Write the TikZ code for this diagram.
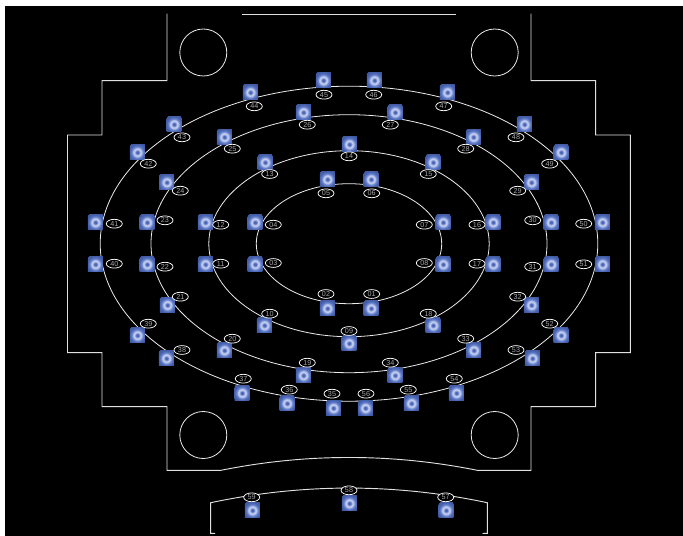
\documentclass[tikz,border=0pt]{standalone}
\usepackage{fontspec}
\setmainfont{Liberation Sans}
\usetikzlibrary{shapes.geometric}
\definecolor{tilecore}{HTML}{4A66B8}
\definecolor{tilemid}{HTML}{6E88D0}
\definecolor{tilering}{HTML}{C4CEF0}
\definecolor{tileedge}{HTML}{4A66B4}
\definecolor{tilecorner}{HTML}{3D5296}
\pgfdeclareradialshading{tileglow}{\pgfpoint{0bp}{0bp}}{%
  color(0bp)=(tilecore);
  color(4bp)=(tilecore);
  color(10bp)=(tilering);
  color(13bp)=(tilering);
  color(18bp)=(tilemid);
  color(24bp)=(tileedge);
  color(36bp)=(tilecorner)}
\tikzset{
  tile/.style={rectangle, minimum size=11.2pt, inner sep=0pt, shading=tileglow},
  tag/.style={ellipse, draw=white, fill=black, line width=.55pt, text=white!65!black,
    minimum width=12pt, minimum height=6.6pt, inner sep=0pt, font=\fontsize{5.4}{5.4}\selectfont},
  wall/.style={draw=white!88!black, line width=.7pt},
  ring/.style={draw=white!92!black, line width=.6pt}
}
\begin{document}
\begin{tikzpicture}[x=.75pt,y=-.75pt]
  \useasboundingbox (0,0) rectangle (683,536);
  \fill [white] (0,0) rectangle (683,536);
  \fill [black] (5,6) rectangle (683,536);
  % housing
  \draw [wall] (167,13.5) -- (167,80.7) -- (102,80.7) -- (102,135) -- (67.5,135)
    -- (67.5,352.7) -- (102,352.7) -- (102,406.7) -- (167,406.7) -- (167,470.3) -- (221,470.3)
    .. controls (306,453.2) and (392,453.2) .. (477.3,470.3)
    -- (531,470.3) -- (531,406.7) -- (595.7,406.7) -- (595.7,352.7) -- (630.3,352.7)
    -- (630.3,135) -- (595.7,135) -- (595.7,80.7) -- (531,80.7) -- (531,13.5);
  \draw [wall] (242,14) -- (456,14);
  \draw [wall] (215,533.3) -- (210.7,533.3) -- (210.7,502.7)
    .. controls (303,483.2) and (395,483.2) .. (487.3,502.7) -- (487.3,533.3) -- (482.7,533.3);
  \draw [ring] (203.3,52.5) circle [radius=23.5];
  \draw [ring] (494.7,52.5) circle [radius=23.5];
  \draw [ring] (203.3,435) circle [radius=23.5];
  \draw [ring] (494.7,435) circle [radius=23.5];
  % rows
  \draw [ring] (349,243.7) ellipse [x radius=92.7, y radius=60];
  \draw [ring] (349,243.7) ellipse [x radius=140.2, y radius=93];
  \draw [ring] (349,243.7) ellipse [x radius=198, y radius=129];
  \draw [ring] (349,243.7) ellipse [x radius=248.8, y radius=157.5];
  % stations
  \node [tile] (s01) at (371,308.3) {};   \node [tag] (n01) at (371.7,294) {01};
  \node [tile] (s02) at (327.3,308.3) {}; \node [tag] (n02) at (326,294) {02};
  \node [tile] (s03) at (255,264.3) {};   \node [tag] (n03) at (273.3,263) {03};
  \node [tile] (s04) at (255,222.3) {};   \node [tag] (n04) at (273.3,224.7) {04};
  \node [tile] (s05) at (327.3,179.3) {}; \node [tag] (n05) at (326,193.3) {05};
  \node [tile] (s06) at (371,179.3) {};   \node [tag] (n06) at (371.7,193.3) {06};
  \node [tile] (s07) at (443,222.3) {};   \node [tag] (n07) at (424.3,224.7) {07};
  \node [tile] (s08) at (443,264.3) {};   \node [tag] (n08) at (424.3,263) {08};
  \node [tile] (s09) at (349,343.3) {};   \node [tag] (n09) at (349,331) {09};
  \node [tile] (s10) at (264.3,325.3) {}; \node [tag] (n10) at (269.7,313.7) {10};
  \node [tile] (s11) at (205.3,264.3) {}; \node [tag] (n11) at (220.7,263.7) {11};
  \node [tile] (s12) at (205.3,222.3) {}; \node [tag] (n12) at (220.7,224.7) {12};
  \node [tile] (s13) at (265,162.3) {};   \node [tag] (n13) at (269.7,174) {13};
  \node [tile] (s14) at (349.3,144.3) {}; \node [tag] (n14) at (349,156.3) {14};
  \node [tile] (s15) at (433,162.3) {};   \node [tag] (n15) at (428.3,174) {15};
  \node [tile] (s16) at (493,222.3) {};   \node [tag] (n16) at (477,224.7) {16};
  \node [tile] (s17) at (493,264.3) {};   \node [tag] (n17) at (477,263.7) {17};
  \node [tile] (s18) at (433,325.3) {};   \node [tag] (n18) at (428.3,313.7) {18};
  \node [tile] (s19) at (303.3,375.3) {}; \node [tag] (n19) at (307.3,362.7) {19};
  \node [tile] (s20) at (224.3,350.3) {}; \node [tag] (n20) at (232.3,338.7) {20};
  \node [tile] (s21) at (167.3,305) {};   \node [tag] (n21) at (180.3,296.7) {21};
  \node [tile] (s22) at (147,264.3) {};   \node [tag] (n22) at (165,266.7) {22};
  \node [tile] (s23) at (147,222.3) {};   \node [tag] (n23) at (165,220.3) {23};
  \node [tile] (s24) at (166.7,182.3) {}; \node [tag] (n24) at (180.3,190.7) {24};
  \node [tile] (s25) at (224.3,137) {};   \node [tag] (n25) at (232.3,148.7) {25};
  \node [tile] (s26) at (303.3,112.3) {}; \node [tag] (n26) at (307.3,124.7) {26};
  \node [tile] (s27) at (395,112.3) {};   \node [tag] (n27) at (390.3,124.7) {27};
  \node [tile] (s28) at (473.3,137) {};   \node [tag] (n28) at (465.7,148.7) {28};
  \node [tile] (s29) at (531.3,182.3) {}; \node [tag] (n29) at (517.7,190.7) {29};
  \node [tile] (s30) at (551,222.3) {};   \node [tag] (n30) at (532.7,220.3) {30};
  \node [tile] (s31) at (551,264.3) {};   \node [tag] (n31) at (532.7,266.7) {31};
  \node [tile] (s32) at (531.3,305) {};   \node [tag] (n32) at (517.7,296.7) {32};
  \node [tile] (s33) at (473.7,350.3) {}; \node [tag] (n33) at (465.7,338.7) {33};
  \node [tile] (s34) at (395,375.3) {};   \node [tag] (n34) at (390.3,362.7) {34};
  \node [tile] (s35) at (333.3,408) {};   \node [tag] (n35) at (332,393.7) {35};
  \node [tile] (s36) at (287,403.3) {};   \node [tag] (n36) at (289.3,389.7) {36};
  \node [tile] (s37) at (242,393) {};     \node [tag] (n37) at (243.3,378.7) {37};
  \node [tile] (s38) at (166.3,358.3) {}; \node [tag] (n38) at (182,350) {38};
  \node [tile] (s39) at (137.3,335.3) {}; \node [tag] (n39) at (148.3,323.7) {39};
  \node [tile] (s40) at (95.3,264.3) {};  \node [tag] (n40) at (114.3,263.7) {40};
  \node [tile] (s41) at (95.3,222.3) {};  \node [tag] (n41) at (114.3,223.7) {41};
  \node [tile] (s42) at (137.3,152.3) {}; \node [tag] (n42) at (148.3,163.7) {42};
  \node [tile] (s43) at (174,124.3) {};   \node [tag] (n43) at (182,137.3) {43};
  \node [tile] (s44) at (250.3,92.3) {};  \node [tag] (n44) at (254.3,106.3) {44};
  \node [tile] (s45) at (323.3,80.3) {};  \node [tag] (n45) at (324,94.7) {45};
  \node [tile] (s46) at (374.3,80.3) {};  \node [tag] (n46) at (373.7,94.7) {46};
  \node [tile] (s47) at (447.3,92.3) {};  \node [tag] (n47) at (443.7,106.3) {47};
  \node [tile] (s48) at (524.3,124.3) {}; \node [tag] (n48) at (516,137.3) {48};
  \node [tile] (s49) at (561,152.3) {};   \node [tag] (n49) at (549.7,163.7) {49};
  \node [tile] (s50) at (602.3,222.3) {}; \node [tag] (n50) at (583.7,223.7) {50};
  \node [tile] (s51) at (602.3,264.3) {}; \node [tag] (n51) at (583.7,264.3) {51};
  \node [tile] (s52) at (561,335.3) {};   \node [tag] (n52) at (549.7,323.7) {52};
  \node [tile] (s53) at (532.3,358.3) {}; \node [tag] (n53) at (516,350) {53};
  \node [tile] (s54) at (456.3,393) {};   \node [tag] (n54) at (454.3,378.7) {54};
  \node [tile] (s55) at (411.3,403.3) {}; \node [tag] (n55) at (408.3,389.7) {55};
  \node [tile] (s56) at (365.3,408) {};   \node [tag] (n56) at (366,393.7) {56};
  \node [tile] (s57) at (446,510.3) {};   \node [tag] (n57) at (445.7,497.3) {57};
  \node [tile] (s58) at (349.3,503.3) {}; \node [tag] (n58) at (349,490.3) {58};
  \node [tile] (s59) at (252.3,510.3) {}; \node [tag] (n59) at (251.7,497.3) {59};
\end{tikzpicture}
\end{document}
